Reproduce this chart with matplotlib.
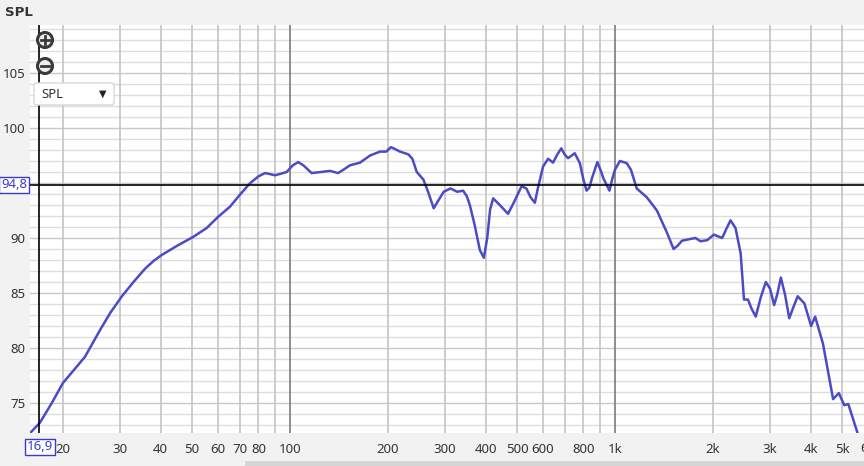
import numpy as np
import matplotlib
matplotlib.use("Agg")
import matplotlib.pyplot as plt
from matplotlib.patches import Ellipse, FancyBboxPatch, Rectangle
from matplotlib.lines import Line2D
from matplotlib.transforms import blended_transform_factory

plt.rcParams["font.family"] = ["Noto Sans", "DejaVu Sans"]

# frequency response
freq = [15.9, 17.0, 18.5, 20.0, 21.5, 23.4, 26.0, 28.0, 30.4, 33.0, 35.8, 38.0,
        40.3, 45.0, 50.4, 55.4, 60.0, 65.4, 70.0, 75.3, 80.0, 83.8, 87.0, 89.9,
        94.0, 97.7, 102, 106, 110, 116.6, 125, 132.7, 140.6, 146, 152.9, 164.3,
        176.5, 189.3, 197.8, 204.5, 210, 218, 231.4, 238, 245.6, 257.5, 266,
        276.9, 286, 297.3, 311.8, 327, 341, 350, 357.6, 370, 384, 395, 404.6,
        413, 422, 442, 468.8, 490, 516, 534, 550, 567, 580, 601, 623, 645, 665,
        684, 700, 717, 752, 780, 800, 818, 835, 849, 883, 905, 922, 962, 980,
        1000, 1036, 1087, 1120, 1167, 1253, 1346, 1445, 1515, 1560, 1608, 1706,
        1768, 1834, 1922, 2015, 2138, 2200, 2268, 2350, 2437, 2495, 2566, 2630,
        2712, 2810, 2913, 3000, 3090, 3160, 3240, 3340, 3439, 3540, 3651, 3828,
        4014, 4131, 4366, 4692, 4886, 5077, 5226, 5588, 5800]
spl = [72.3, 73.2, 75.0, 76.8, 77.9, 79.2, 81.6, 83.2, 84.7, 86.0, 87.2, 87.9,
       88.45, 89.3, 90.1, 90.9, 91.9, 92.85, 93.9, 94.97, 95.6, 95.9, 95.8, 95.7,
       95.85, 96.0, 96.6, 96.9, 96.6, 95.9, 96.0, 96.1, 95.9, 96.2, 96.6, 96.85,
       97.5, 97.85, 97.85, 98.25, 98.1, 97.85, 97.6, 97.2, 96.0, 95.3, 94.2,
       92.7, 93.4, 94.2, 94.5, 94.2, 94.3, 93.8, 93.0, 91.2, 88.9, 88.2, 90.0,
       92.6, 93.6, 93.0, 92.2, 93.3, 94.7, 94.5, 93.7, 93.2, 94.6, 96.5, 97.2,
       96.85, 97.6, 98.15, 97.6, 97.25, 97.7, 96.8, 95.3, 94.3, 94.6, 95.4, 96.9,
       96.1, 95.4, 94.3, 95.3, 96.2, 97.0, 96.8, 96.2, 94.5, 93.7, 92.5, 90.5,
       89.0, 89.3, 89.75, 89.9, 90.0, 89.7, 89.8, 90.3, 90.0, 90.8, 91.6, 90.9,
       88.6, 84.4, 84.4, 83.6, 82.85, 84.6, 86.0, 85.4, 83.9, 84.9, 86.4, 84.8,
       82.7, 83.7, 84.7, 84.05, 82.0, 82.85, 80.4, 75.35, 75.9, 74.8, 74.9,
       72.2, 71.0]

xtick_vals = [20, 30, 40, 50, 60, 70, 80, 100, 200, 300, 400, 500, 600, 800,
              1000, 2000, 3000, 4000, 5000]
xtick_labels = ["20", "30", "40", "50", "60", "70", "80", "100", "200", "300",
                "400", "500", "600", "800", "1k", "2k", "3k", "4k", "5k"]
ytick_vals = [75, 80, 85, 90, 100, 105]
grid_freqs = [20, 30, 40, 50, 60, 70, 80, 90, 200, 300, 400, 500, 600, 700,
              800, 900, 2000, 3000, 4000, 5000]
decades = [100, 1000]
cursor_f = 16.9
cursor_db = 94.8

W, H = 864, 466
fig = plt.figure(figsize=(W / 100, H / 100), dpi=100)
fig.patch.set_facecolor("#f2f2f2")


def fx(px):
    return px / W


def fy(py):
    return 1 - py / H


ax = fig.add_axes([fx(30), fy(433), 1 - fx(30), fy(25) - fy(433)])
ax.set_facecolor("white")
ax.set_xscale("log")
ax.set_xlim(15.85, 5840)
ax.set_ylim(72.27, 109.36)

# grid
for db in range(73, 110):
    c = "#c9c9c9" if db % 5 == 0 else "#dedede"
    ax.axhline(db, color=c, lw=1.0, zorder=1)
for f in grid_freqs:
    ax.axvline(f, color="#c4c4c4", lw=1.2, zorder=1)
for f in decades:
    ax.axvline(f, color="#7a7a7a", lw=1.2, zorder=1)

ax.plot(freq, spl, color="#4b4bc6", lw=1.8, zorder=3,
        solid_joinstyle="round", solid_capstyle="round")

# cursor crosshair
ax.axvline(cursor_f, color="black", lw=1.2, zorder=4)
ax.axhline(cursor_db, color="black", lw=1.2, zorder=4)

ax.set_xticks(xtick_vals)
ax.set_xticklabels(xtick_labels)
ax.xaxis.set_minor_locator(matplotlib.ticker.NullLocator())
ax.set_yticks(ytick_vals)
ax.set_yticklabels([str(v) for v in ytick_vals])
ax.tick_params(length=0, labelsize=9.5, colors="#333333")
ax.tick_params(axis="x", pad=7)
ax.tick_params(axis="y", pad=3)
for s in ax.spines.values():
    s.set_visible(False)

# "6k" label, cut off by the right edge as in the screenshot
trans = blended_transform_factory(ax.transData, ax.transAxes)
ax.text(6000, -0.038, "6k", transform=trans, ha="center", va="center",
        fontsize=9.5, color="#333333", clip_on=False)

# cursor value boxes
box = dict(boxstyle="square,pad=0.15", fc="white", ec="#3a3ad0", lw=1.0)
fig.text(fx(40), fy(447), "16,9", ha="center", va="center", fontsize=9.5,
         color="#3a3ad0", bbox=box)
fig.text(fx(14), fy(185), "94,8", ha="center", va="center", fontsize=9.5,
         color="#3a3ad0", bbox=box)

# title
fig.text(fx(5), fy(12), "SPL", ha="left", va="center", fontsize=9.5,
         fontweight="bold", family="DejaVu Sans", color="#333333")

# zoom buttons
for cy, plus in [(40, True), (66, False)]:
    fig.add_artist(Ellipse((fx(45), fy(cy)), 15 / W, 15 / H, facecolor="#eeeeee",
                           edgecolor="#3a3a3a", lw=2.2, zorder=5))
    fig.add_artist(Line2D([fx(41), fx(49)], [fy(cy), fy(cy)], color="#3a3a3a",
                          lw=2.0, zorder=6))
    if plus:
        fig.add_artist(Line2D([fx(45), fx(45)], [fy(cy - 4), fy(cy + 4)],
                              color="#3a3a3a", lw=2.0, zorder=6))

# SPL dropdown
fig.add_artist(FancyBboxPatch((fx(34), fy(105)), fx(80), fy(83) - fy(105),
                              boxstyle="round,pad=0.0,rounding_size=0.004",
                              facecolor="white", edgecolor="#d8d8d8", lw=1.0,
                              zorder=5))
fig.text(fx(41), fy(94), "SPL", ha="left", va="center", fontsize=9.5,
         color="#333333", zorder=6)
fig.text(fx(103), fy(94), "▼", ha="center", va="center", fontsize=7,
         color="#222222", zorder=6)

# scrollbar
fig.add_artist(Rectangle((fx(245), 0), 1 - fx(245), 5 / H, facecolor="#d6d6d6",
                         edgecolor="none", zorder=5))

fig.savefig("out.png", dpi=100, facecolor=fig.get_facecolor())
